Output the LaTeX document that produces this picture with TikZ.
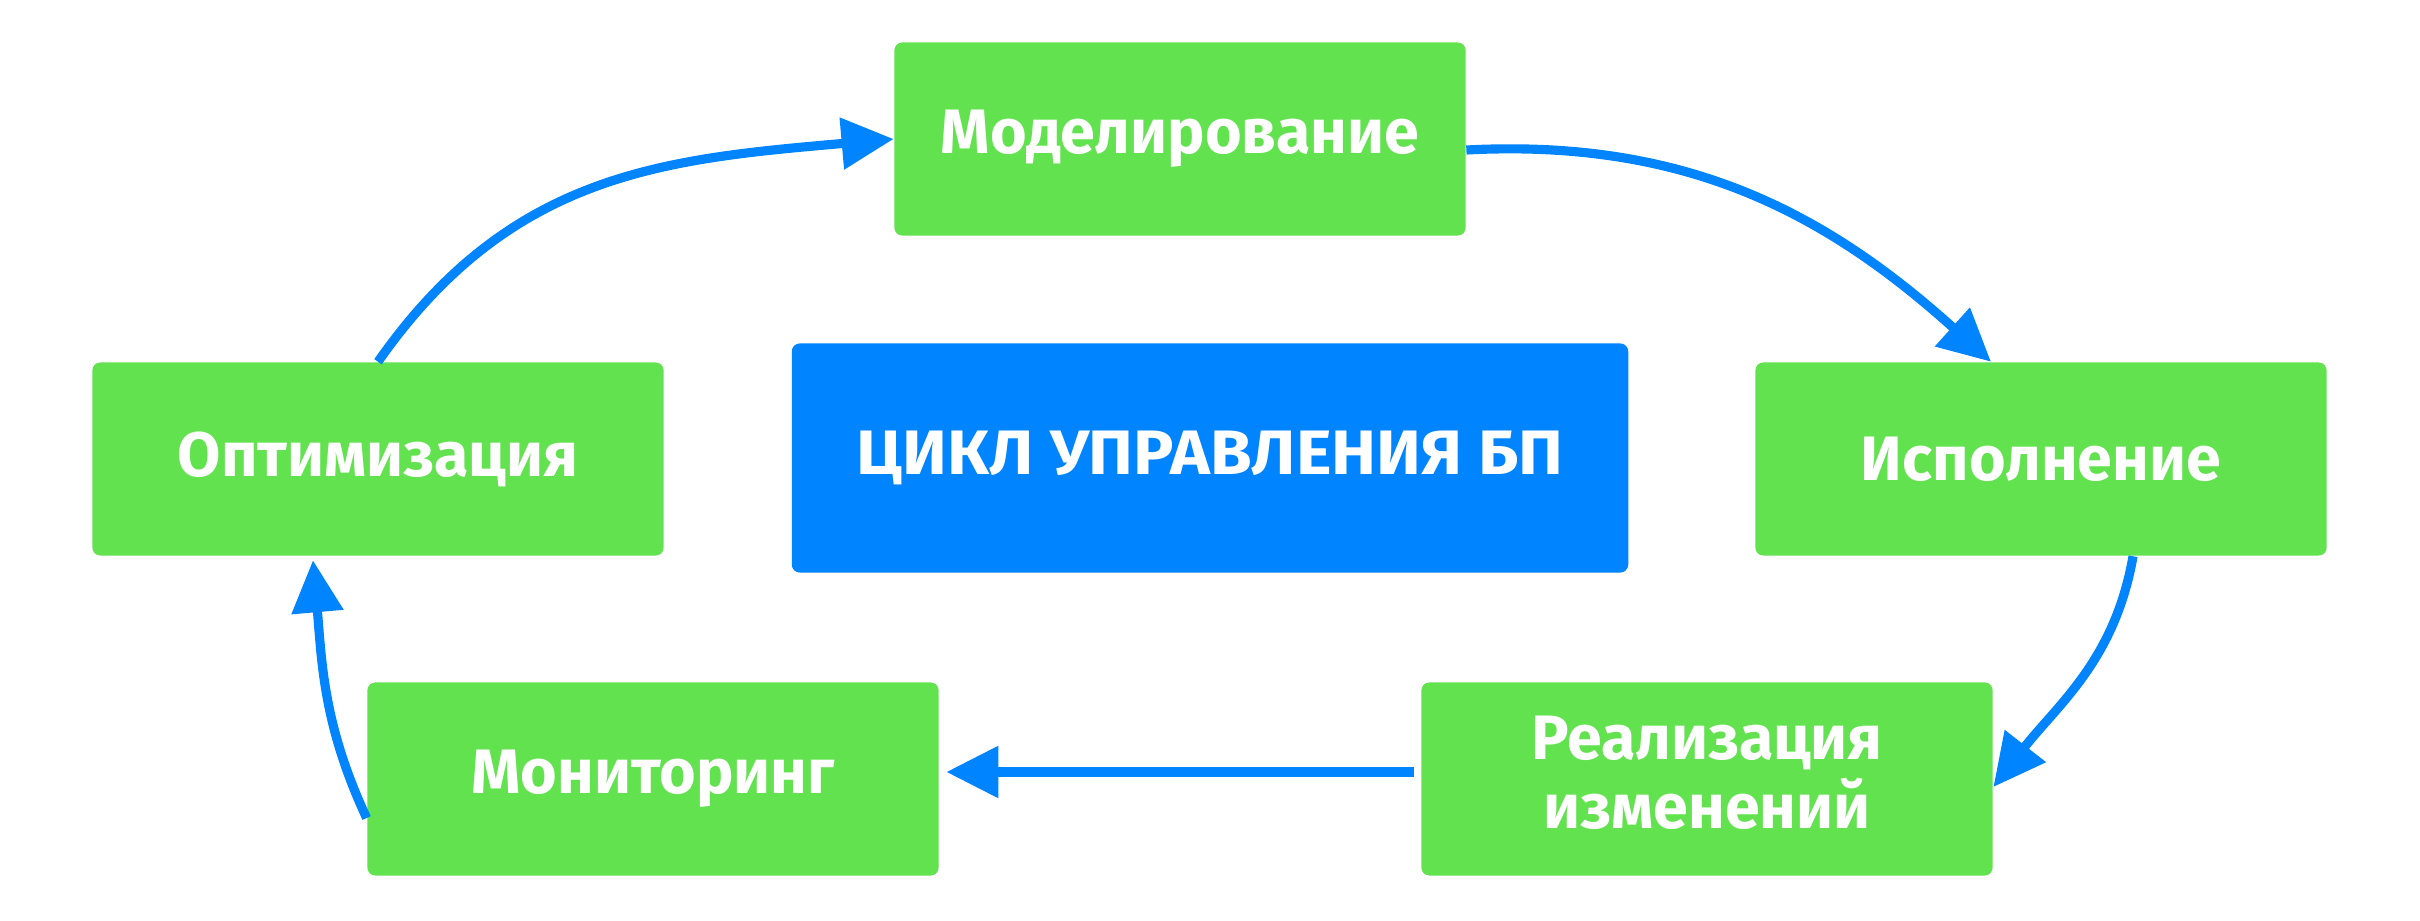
\documentclass[tikz,border=0pt]{standalone}
\usepackage{fontspec}
\usepackage{graphicx}
\setmainfont{Fira Sans}
\usetikzlibrary{arrows.meta,calc}
\definecolor{grn}{RGB}{99,226,80}
\definecolor{blu}{RGB}{0,132,255}
\newcommand{\bt}[1]{\scalebox{1.19}{#1}}
\begin{document}
\begin{tikzpicture}[x=0.01cm,y=0.01cm,
  box/.style={fill=grn, rounded corners=0.08cm, minimum width=5.71cm, minimum height=1.93cm,
    text=white, font=\fontsize{15}{17.6}\selectfont\bfseries, inner sep=0pt, align=center},
  cyc/.style={fill=blu, rounded corners=0.08cm, minimum width=8.36cm, minimum height=2.29cm,
    text=white, font=\fontsize{15}{17.6}\selectfont\bfseries, inner sep=0pt, align=center},
  arr/.style={draw=blu, line width=2.6pt, -{Triangle[length=0.52cm,width=0.5cm]}}]
\useasboundingbox (0,0) rectangle (2420,-921);
\node[box] (mod) at (1180,-139) {\bt{Моделирование}};
\node[box] (opt) at (378,-459) {\bt{Оптимизация}};
\node[box] (isp) at (2041,-459) {\bt{Исполнение}};
\node[box] (mon) at (653,-779) {\bt{Мониторинг}};
\node[box] (rea) at (1707,-779) {\bt{\begin{tabular}{@{}c@{}}Реализация\\[-1pt]изменений\end{tabular}}};
\node[cyc] (cyc) at (1210,-458) {\scalebox{1.28}[1.19]{ЦИКЛ УПРАВЛЕНИЯ БП}};
\draw[arr] (opt.north) to[out=55,in=185,looseness=1.05] (mod.west);
\draw[arr] ([yshift=-0.11cm]mod.east) to[out=3,in=138] ([xshift=-0.5cm]isp.north);
\draw[arr] ([xshift=0.92cm]isp.south) to[out=-100,in=52] ([yshift=-0.08cm]rea.east);
\draw[arr] ([xshift=-0.07cm,yshift=0.07cm]rea.west) -- ([xshift=0.07cm,yshift=0.07cm]mon.east);
\draw[arr] ([yshift=-0.39cm]mon.west) to[out=115,in=-85] ([xshift=-0.65cm,yshift=-0.04cm]opt.south);
\end{tikzpicture}
\end{document}
